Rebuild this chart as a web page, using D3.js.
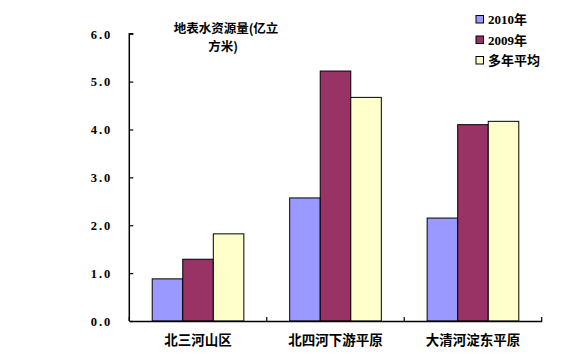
<!DOCTYPE html>
<html>
<head>
<meta charset="utf-8">
<script src="https://cdn.jsdelivr.net/npm/d3@7"></script>
<style>
html,body{margin:0;padding:0;background:#fff;}
svg{display:block;}
text{font-family:"Liberation Serif","Times New Roman","Noto Sans CJK SC",serif;font-weight:bold;fill:#000;}
.cjk{font-family:"Noto Sans CJK SC","Liberation Serif",sans-serif;font-weight:bold;}
</style>
</head>
<body>
<svg id="chart" width="578" height="358"></svg>
<script>
const categories = ["北三河山区", "北四河下游平原", "大清河淀东平原"];
const seriesNames = ["2010年", "2009年", "多年平均"];
const v2010 = [0.88, 2.57, 2.15];
const v2009 = [1.29, 5.22, 4.10];
const vAvg = [1.82, 4.67, 4.17];
const yTicks = [0, 1, 2, 3, 4, 5, 6];
const titleLines = ["地表水资源量(亿立", "方米)"];

const colors = ["#9999FF", "#993366", "#FFFFCC"];
const series = [v2010, v2009, vAvg];

const svg = d3.select("#chart");
const x0 = 129.3, x1 = 541.7, yBot = 321, yTop = 33.7;

const x = d3.scaleBand().domain(categories).range([x0, x1]).paddingInner(0).paddingOuter(0);
const y = d3.scaleLinear().domain([0, 6]).range([yBot, yTop]);

// bars
const bw = x.bandwidth();
const barW = bw / (3 + 1.5);
const gapOuter = bw * 0.75 / 4.5;
categories.forEach((c, ci) => {
  series.forEach((s, si) => {
    svg.append("rect")
      .attr("x", x(c) + gapOuter + si * barW)
      .attr("y", y(s[ci]))
      .attr("width", barW)
      .attr("height", y(0) - y(s[ci]))
      .attr("fill", colors[si])
      .attr("stroke", "#000")
      .attr("stroke-width", 1);
  });
});

// y axis
const yAxis = d3.axisRight(y).tickValues(yTicks).tickSize(4).tickFormat(d => d.toFixed(1));
const yg = svg.append("g").attr("transform", `translate(${x0},0)`).call(yAxis);
yg.select(".domain").attr("stroke", "#000").attr("stroke-width", 1.5).attr("d", `M4,${yTop}H0V${yBot}`);
yg.selectAll(".tick line").attr("stroke", "#000").attr("stroke-width", 1.2);
yg.selectAll(".tick text")
  .attr("x", -17).attr("text-anchor", "end").attr("dy", "0.35em")
  .style("font-size", "12.5px").style("letter-spacing", "2px");

// x axis
const xAxis = d3.axisBottom(x).tickSize(0).tickPadding(12);
const xg = svg.append("g").attr("transform", `translate(0,${yBot})`).call(xAxis);
xg.select(".domain").attr("stroke", "#000").attr("stroke-width", 1.5);
xg.selectAll(".tick text").attr("class", "cjk").style("font-size", "13.5px").attr("dy", "0.9em");
// category boundary ticks (inside)
const bounds = categories.map(c => x(c) + bw).concat([x0]);
svg.append("g").selectAll("line").data(bounds).join("line")
  .attr("x1", d => d).attr("x2", d => d)
  .attr("y1", yBot).attr("y2", yBot - 4)
  .attr("stroke", "#000").attr("stroke-width", 1.2);

// title
svg.append("text").attr("class", "cjk").attr("x", 226).attr("y", 33)
  .attr("text-anchor", "middle").style("font-size", "12.5px").text(titleLines[0]);
svg.append("text").attr("class", "cjk").attr("x", 223).attr("y", 51)
  .attr("text-anchor", "middle").style("font-size", "12.5px").text(titleLines[1]);

// legend
const lg = svg.append("g");
seriesNames.forEach((n, i) => {
  const cy = 19.5 + i * 20.5;
  lg.append("rect").attr("x", 476).attr("y", cy - 4).attr("width", 7.5).attr("height", 7.5)
    .attr("fill", colors[i]).attr("stroke", "#000").attr("stroke-width", 1);
  lg.append("text").attr("x", 488).attr("y", cy).attr("dy", "0.35em")
    .attr("class", i === 2 ? "cjk" : null)
    .style("font-size", "13px").text(n);
});
</script>
</body>
</html>
